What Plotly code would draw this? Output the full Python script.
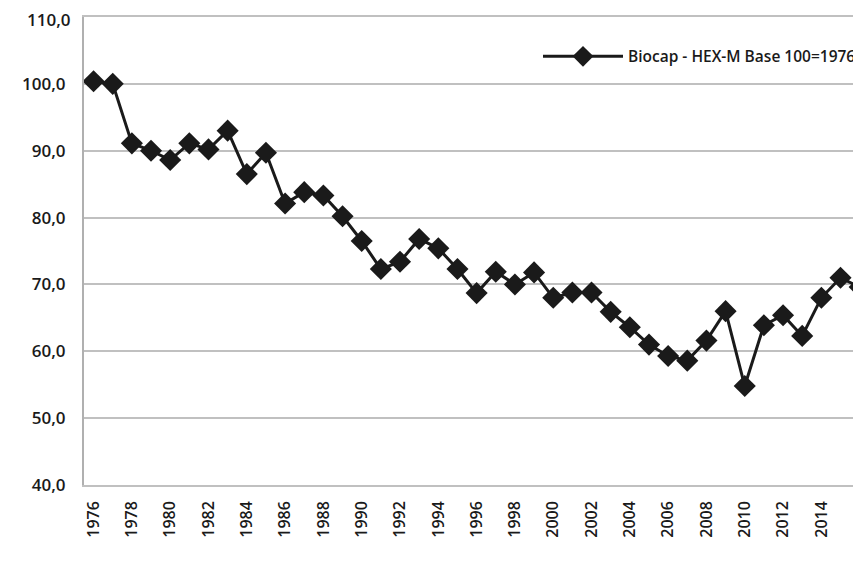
import plotly.graph_objects as go

years = list(range(1976, 2017))
biocap = [100.4, 100.0, 91.1, 90.0, 88.6, 91.1, 90.2, 93.0, 86.5, 89.7,
          82.1, 83.8, 83.3, 80.2, 76.5, 72.3, 73.4, 76.8, 75.4, 72.3,
          68.7, 71.9, 70.0, 71.8, 68.0, 68.8, 68.8, 65.9, 63.6, 61.0,
          59.3, 58.6, 61.6, 66.0, 54.8, 63.9, 65.4, 62.3, 68.0, 71.0,
          69.6]
tick_years = list(range(1976, 2015, 2))
tick_labels = [str(y) for y in tick_years]
y_top = 110

fig = go.Figure()

fig.add_trace(go.Scatter(
    x=years,
    y=biocap,
    mode='lines+markers',
    name='Biocap - HEX-M Base 100=1976',
    line=dict(color='#1a1a1a', width=3),
    marker=dict(symbol='diamond', size=17, color='#1a1a1a')))

# top tick label gets hidden by plotly (it touches the paper edge), so add it by hand
fig.add_annotation(x=0, xref='paper', y=y_top, yref='y',
                   text=f'{y_top:.1f}'.replace('.', ','),
                   showarrow=False, xanchor='right', yanchor='middle',
                   xshift=-12, yshift=-2, borderpad=0,
                   font=dict(size=17, weight=600, color='#1a1a1a'))

# page body has an 8px margin, so the figure is a bit smaller than the window
fig.update_layout(width=853,
                  height=555,
                  margin={"r": 0, "t": 9, "l": 76, "b": 78},
                  plot_bgcolor='white',
                  paper_bgcolor='white',
                  separators=',.',
                  font=dict(family='Open Sans', color='#1a1a1a'),
                  showlegend=True,
                  legend=dict(x=1, y=0.915,
                              xanchor='right', yanchor='middle',
                              bgcolor='rgba(0,0,0,0)',
                              itemwidth=80,
                              font=dict(size=15.5, weight=600)),
                  xaxis=dict(range=[1975.5, 2016.07],
                             tickmode='array',
                             tickvals=tick_years,
                             ticktext=tick_labels,
                             tickangle=-90,
                             tickfont=dict(size=16, weight=600),
                             ticklabelstandoff=8,
                             showgrid=False,
                             zeroline=False,
                             showline=True,
                             mirror=True,
                             linecolor='#c0c0c0',
                             linewidth=1.5),
                  yaxis=dict(range=[40, y_top],
                             dtick=10,
                             tickformat='.1f',
                             tickfont=dict(size=17, weight=600),
                             ticklabelstandoff=13,
                             showgrid=True,
                             gridcolor='#c0c0c0',
                             gridwidth=1.5,
                             zeroline=False,
                             showline=True,
                             linecolor='#b0b0b0',
                             linewidth=2))

fig.write_html("out.html")
